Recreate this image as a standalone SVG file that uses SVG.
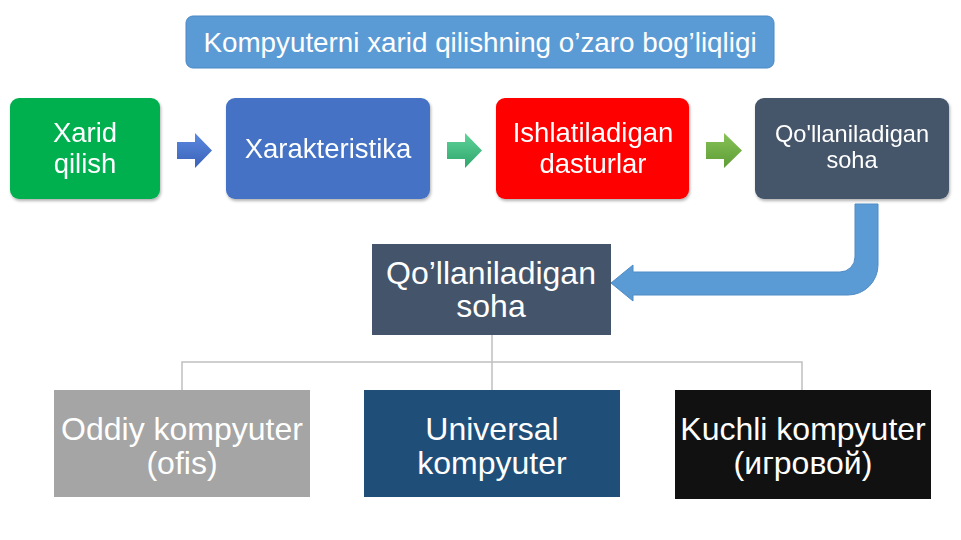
<svg xmlns="http://www.w3.org/2000/svg" width="961" height="540" viewBox="0 0 961 540">
<defs>
<style>
.t{font-family:"Liberation Sans",Arial,sans-serif;fill:#fff;text-anchor:middle}
.conn{fill:none;stroke:#c0c0c0;stroke-width:1.5}
</style>
<filter id="sh" x="-10%" y="-10%" width="120%" height="130%">
<feDropShadow dx="1" dy="2" stdDeviation="1.5" flood-color="#000" flood-opacity="0.3"/>
</filter>
<linearGradient id="g1" x1="0" y1="0" x2="0" y2="1"><stop offset="0" stop-color="#5a8ae0"/><stop offset="1" stop-color="#3a62b8"/></linearGradient>
<linearGradient id="g2" x1="0" y1="0" x2="0" y2="1"><stop offset="0" stop-color="#5fd39a"/><stop offset="1" stop-color="#2fa66c"/></linearGradient>
<linearGradient id="g3" x1="0" y1="0" x2="0" y2="1"><stop offset="0" stop-color="#86c256"/><stop offset="1" stop-color="#5e9c36"/></linearGradient>
</defs>
<rect width="961" height="540" fill="#fff"/>

<g id="title">
<rect x="186" y="16" width="588" height="52" rx="7" fill="#5b9bd5" stroke="#4a88c2" stroke-width="1"/>
<text class="t" x="480" y="52" font-size="27.8">Kompyuterni xarid qilishning o’zaro bog’liqligi</text>
</g>

<g id="connectors">
<path d="M177,142 H195 V133 L212,150.5 L195,168 V159 H177 Z" fill="url(#g1)"/>
<path d="M447,142 H465 V133 L482,150.5 L465,168 V159 H447 Z" fill="url(#g2)"/>
<path d="M706,142 H724 V133 L742,150.5 L724,168 V159 H706 Z" fill="url(#g3)"/>
<path d="M855,204 H878 V265 A30,30 0 0 1 848,295 H633 V301 L611,283 L633,265 V272 H840 A15,15 0 0 0 855,257 Z" fill="#5b9bd5" stroke="#4f8cc6" stroke-width="1"/>
<path class="conn" d="M492,335 V390 M182,390 V362 H802 V390"/>
</g>

<g id="node-xarid" filter="url(#sh)">
<rect x="10" y="98" width="150" height="101" rx="9" fill="#00b050"/>
<text class="t" x="85" y="142" font-size="27.5">Xarid</text>
<text class="t" x="85" y="173" font-size="27.5">qilish</text>
</g>

<g id="node-xarakteristika" filter="url(#sh)">
<rect x="226" y="98" width="204" height="101" rx="9" fill="#4472c4"/>
<text class="t" x="328" y="158" font-size="27.5">Xarakteristika</text>
</g>

<g id="node-dasturlar" filter="url(#sh)">
<rect x="496" y="98" width="193" height="101" rx="9" fill="#ff0000"/>
<text class="t" x="593" y="142" font-size="27.5">Ishlatiladigan</text>
<text class="t" x="593" y="173" font-size="27.5">dasturlar</text>
</g>

<g id="node-soha-top" filter="url(#sh)">
<rect x="755" y="98" width="194" height="101" rx="9" fill="#44546a"/>
<text class="t" x="852" y="142" font-size="23.6">Qo'llaniladigan</text>
<text class="t" x="852" y="168" font-size="23.6">soha</text>
</g>

<g id="node-soha">
<rect x="372" y="244" width="239" height="91" fill="#44546a"/>
<text class="t" x="491" y="284" font-size="32">Qo’llaniladigan</text>
<text class="t" x="491" y="317" font-size="32">soha</text>
</g>

<g id="node-oddiy">
<rect x="54" y="390" width="256" height="107" fill="#a5a5a5"/>
<text class="t" x="182" y="440" font-size="32">Oddiy kompyuter</text>
<text class="t" x="182" y="474" font-size="32">(ofis)</text>
</g>

<g id="node-universal">
<rect x="364" y="390" width="256" height="107" fill="#1f4e79"/>
<text class="t" x="492" y="440" font-size="32">Universal</text>
<text class="t" x="492" y="474" font-size="32">kompyuter</text>
</g>

<g id="node-kuchli">
<rect x="675" y="390" width="256" height="109" fill="#111111"/>
<text class="t" x="803" y="440" font-size="32">Kuchli kompyuter</text>
<text class="t" x="803" y="474" font-size="32">(игровой)</text>
</g>
</svg>
